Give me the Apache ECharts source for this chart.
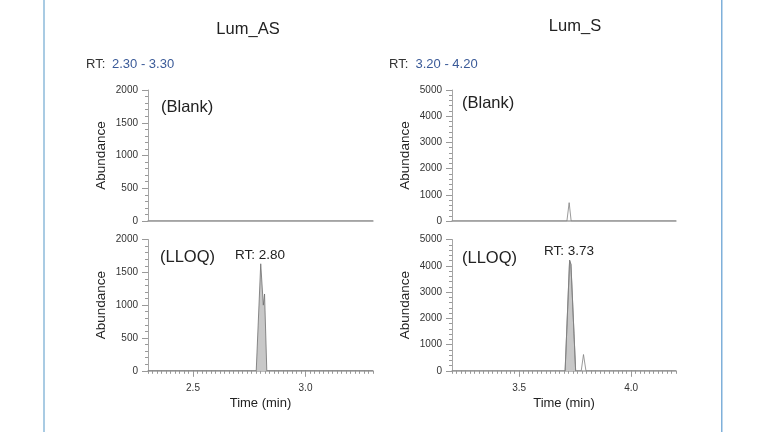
<!DOCTYPE html>
<html>
<head>
<meta charset="utf-8">
<script src="https://cdn.jsdelivr.net/npm/echarts@6/dist/echarts.min.js"></script>
<style>
html,body{margin:0;padding:0;background:#fff;}
#chart{width:768px;height:432px;}
</style>
</head>
<body>
<div id="chart"></div>
<script>
// ---- data ----
const compoundNames = ['Lum_AS', 'Lum_S'];
const rtRanges = ['2.30 - 3.30', '3.20 - 4.20'];
const peakRTLabels = ['RT: 2.80', 'RT: 3.73'];
const sampleLabels = ['(Blank)', '(LLOQ)'];

// Lum_AS (time in min, abundance)
const asBlankTime = [2.30, 3.30];
const asBlankAbund = [0, 0];
const asLloqTime = [2.30, 2.781, 2.801, 2.8125, 2.818, 2.828, 3.30];
const asLloqAbund = [0, 0, 1630, 1000, 1170, 0, 0];

// Lum_S
const sBlankTime = [3.20, 3.713, 3.723, 3.732, 4.20];
const sBlankAbund = [0, 0, 700, 0, 0];
const sLloqTime = [3.20, 3.705, 3.725, 3.731, 3.752, 3.777, 3.787, 3.798, 4.20];
const sLloqAbund = [0, 0, 4210, 4050, 0, 0, 620, 0, 0];
const sPeakTime = [3.705, 3.725, 3.731, 3.752];
const sPeakAbund = [0, 4210, 4050, 0];

// axis ranges / ticks
const asXRange = [2.30, 3.30];
const sXRange = [3.20, 4.20];
const asXLabels = [2.5, 3.0];
const sXLabels = [3.5, 4.0];
const asYMax = 2000, asYStep = 500;
const sYMax = 5000, sYStep = 1000;

function pairs(t, v) { return t.map((x, i) => [x, v[i]]); }

const FONT = '"Liberation Sans", Arial, Helvetica, sans-serif';
const axisGray = '#a6a6a6';
const textDark = '#222';

const grids = [
  { left: 148, top: 90, width: 225, height: 131 },
  { left: 148, top: 239.5, width: 225, height: 131.3 },
  { left: 452, top: 90, width: 224, height: 131 },
  { left: 452, top: 239.5, width: 224, height: 131.3 }
];

const xAxes = [];
const yAxes = [];
function addX(gridIndex, range, labels, isBottom) {
  // minor-tick / axis-line axis
  xAxes.push({
    type: 'value', gridIndex, min: range[0], max: range[1], interval: 0.02, position: 'bottom',
    axisLine: { show: true, onZero: false, lineStyle: { color: axisGray, width: 1.5 } },
    axisTick: { show: isBottom, length: 3, lineStyle: { color: '#999', width: 1 } },
    axisLabel: { show: false }, splitLine: { show: false }
  });
  // major ticks + labels axis
  xAxes.push({
    type: 'value', gridIndex, min: range[0], max: range[1], position: 'bottom',
    axisLine: { show: false, onZero: false },
    axisTick: { show: isBottom, length: 6, customValues: labels, lineStyle: { color: '#999', width: 1 } },
    axisLabel: { show: isBottom, customValues: labels, margin: 12, fontSize: 10, color: '#333', fontFamily: FONT,
      formatter: v => Number(v).toFixed(1) },
    splitLine: { show: false },
    name: isBottom ? 'Time (min)' : '', nameLocation: 'middle', nameGap: 26,
    nameTextStyle: { fontSize: 13, color: textDark, fontFamily: FONT }
  });
}
function addY(gridIndex, max, step) {
  yAxes.push({
    type: 'value', gridIndex, min: 0, max, interval: step,
    axisLine: { show: true, lineStyle: { color: axisGray, width: 1 } },
    axisTick: { show: true, length: 6, lineStyle: { color: '#999' } },
    minorTick: { show: true, splitNumber: 5, length: 3, lineStyle: { color: '#999' } },
    axisLabel: { fontSize: 10, color: '#333', margin: 10, fontFamily: FONT, formatter: v => String(Math.round(v)) },
    splitLine: { show: false },
    name: 'Abundance', nameLocation: 'middle', nameGap: 40,
    nameTextStyle: { fontSize: 13.5, color: textDark, fontFamily: FONT }
  });
}
addX(0, asXRange, asXLabels, false); addY(0, asYMax, asYStep);
addX(1, asXRange, asXLabels, true);  addY(1, asYMax, asYStep);
addX(2, sXRange, sXLabels, false);   addY(2, sYMax, sYStep);
addX(3, sXRange, sXLabels, true);    addY(3, sYMax, sYStep);

const lineStyleTrace = { color: '#808080', width: 0.8 };
const series = [
  { type: 'line', xAxisIndex: 0, yAxisIndex: 0, data: pairs(asBlankTime, asBlankAbund), symbol: 'none', lineStyle: lineStyleTrace, silent: true },
  { type: 'line', xAxisIndex: 2, yAxisIndex: 1, data: pairs(asLloqTime, asLloqAbund), symbol: 'none',
    lineStyle: { color: '#6e6e6e', width: 0.8 }, areaStyle: { color: '#c8c8c8', opacity: 1 }, silent: true },
  { type: 'line', xAxisIndex: 4, yAxisIndex: 2, data: pairs(sBlankTime, sBlankAbund), symbol: 'none', lineStyle: lineStyleTrace, silent: true },
  { type: 'line', xAxisIndex: 6, yAxisIndex: 3, data: pairs(sPeakTime, sPeakAbund), symbol: 'none',
    lineStyle: { color: '#6e6e6e', width: 0.8 }, areaStyle: { color: '#c8c8c8', opacity: 1 }, silent: true },
  { type: 'line', xAxisIndex: 6, yAxisIndex: 3, data: pairs(sLloqTime, sLloqAbund), symbol: 'none', lineStyle: lineStyleTrace, silent: true }
];

function txt(text, x, y, size, color, align) {
  return { type: 'text', x, y, silent: true,
    style: { text, fill: color || textDark, font: size + 'px ' + FONT, textAlign: align || 'left', textVerticalAlign: 'middle' } };
}

const graphic = [
  { type: 'rect', shape: { x: 43, y: 0, width: 2, height: 432 }, style: { fill: '#a9cbe3' }, silent: true },
  { type: 'rect', shape: { x: 721, y: 0, width: 1.5, height: 432 }, style: { fill: '#7fb0da' }, silent: true },
  txt(compoundNames[0], 248, 29, 16.5, textDark, 'center'),
  txt(compoundNames[1], 575, 26, 16.5, textDark, 'center'),
  txt('RT:', 86, 64.5, 13, '#333'),
  txt(rtRanges[0], 112, 64.5, 13, '#3a5a98'),
  txt('RT:', 389, 64.5, 13, '#333'),
  txt(rtRanges[1], 415.5, 64.5, 13, '#3a5a98'),
  txt(sampleLabels[0], 161, 107.5, 16.5),
  txt(sampleLabels[0], 462, 103, 16.5),
  txt(sampleLabels[1], 160, 257.5, 16.5),
  txt(sampleLabels[1], 462, 258.5, 16.5),
  txt(peakRTLabels[0], 235, 255, 13.5),
  txt(peakRTLabels[1], 544, 251, 13.5)
];

const chart = echarts.init(document.getElementById('chart'), null, { renderer: 'canvas' });
chart.setOption({
  animation: false,
  backgroundColor: '#fff',
  grid: grids,
  xAxis: xAxes,
  yAxis: yAxes,
  series,
  graphic
});
</script>
</body>
</html>
